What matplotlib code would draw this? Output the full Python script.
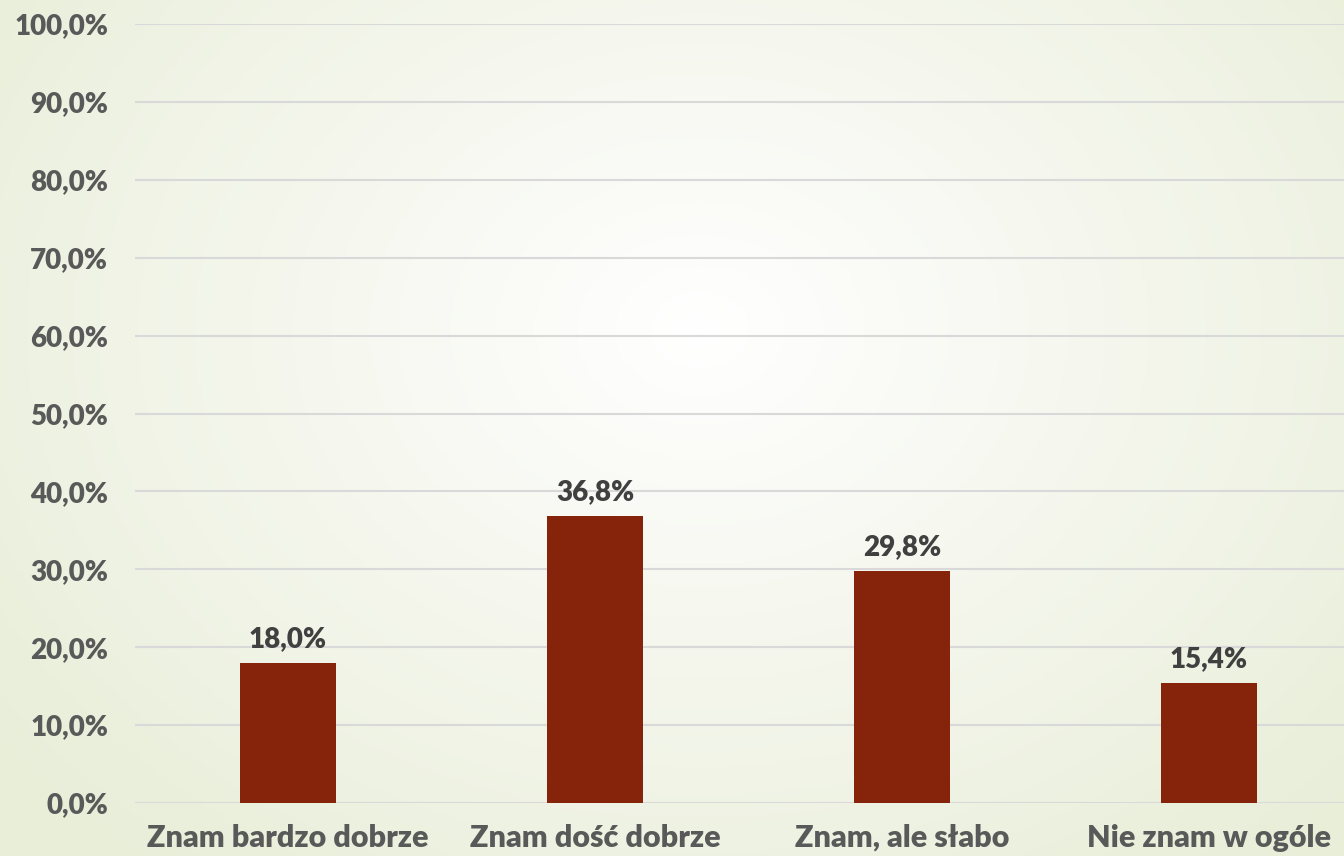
import numpy as np
import matplotlib
matplotlib.use("Agg")
import matplotlib.pyplot as plt
from matplotlib.colors import LinearSegmentedColormap

categories = ["Znam bardzo dobrze", "Znam dość dobrze", "Znam, ale słabo", "Nie znam w ogóle"]
values = [18.0, 36.8, 29.8, 15.4]
yticks = [0, 10, 20, 30, 40, 50, 60, 70, 80, 90, 100]


def pl(v, dec=1):
    # polish decimal comma
    return f"{v:.{dec}f}".replace(".", ",") + "%"


fig = plt.figure(figsize=(13.44, 8.56), dpi=100)

# radial background gradient: white centre, pale green edges
bg = fig.add_axes([0, 0, 1, 1])
bg.set_axis_off()
xx, yy = np.meshgrid(np.linspace(0, 1344, 400), np.linspace(0, 856, 260))
r = np.sqrt(((xx - 700) / 900) ** 2 + ((yy - 330) / 700) ** 2)
cmap = LinearSegmentedColormap.from_list("bg", ["#ffffff", "#f4f6ec", "#e8eed8"])
bg.imshow(r, cmap=cmap, vmin=0, vmax=1.0, extent=[0, 1, 0, 1], aspect="auto", origin="upper")
bg.set_xlim(0, 1)
bg.set_ylim(0, 1)

ax = fig.add_axes([134.5 / 1344, 53 / 856, 1228 / 1344, 779 / 856])
ax.patch.set_alpha(0)

x = np.arange(len(categories))
bars = ax.bar(x, values, width=0.31, color="#86240b", zorder=3)

for xi, v in zip(x, values):
    ax.annotate(pl(v), (xi, v), xytext=(0, 8), textcoords="offset points",
                ha="center", va="bottom", fontsize=20, fontweight="heavy",
                color="#404040", family="Lato")

ax.set_xlim(-0.5, len(categories) - 0.5)
ax.set_ylim(0, 100)
ax.set_yticks(yticks)
ax.set_yticklabels([pl(t) for t in yticks], fontsize=20, fontweight="heavy",
                   color="#595959", family="Lato")
ax.set_xticks(x)
ax.set_xticklabels(categories, fontsize=22, fontweight="heavy", color="#595959", family="Lato")
ax.tick_params(axis="both", length=0)
ax.tick_params(axis="y", pad=19)
ax.tick_params(axis="x", pad=15)
ax.grid(axis="y", color="#d9d9d9", linewidth=1.5, zorder=0)
for s in ax.spines.values():
    s.set_visible(False)

fig.savefig("out.png", dpi=100)
